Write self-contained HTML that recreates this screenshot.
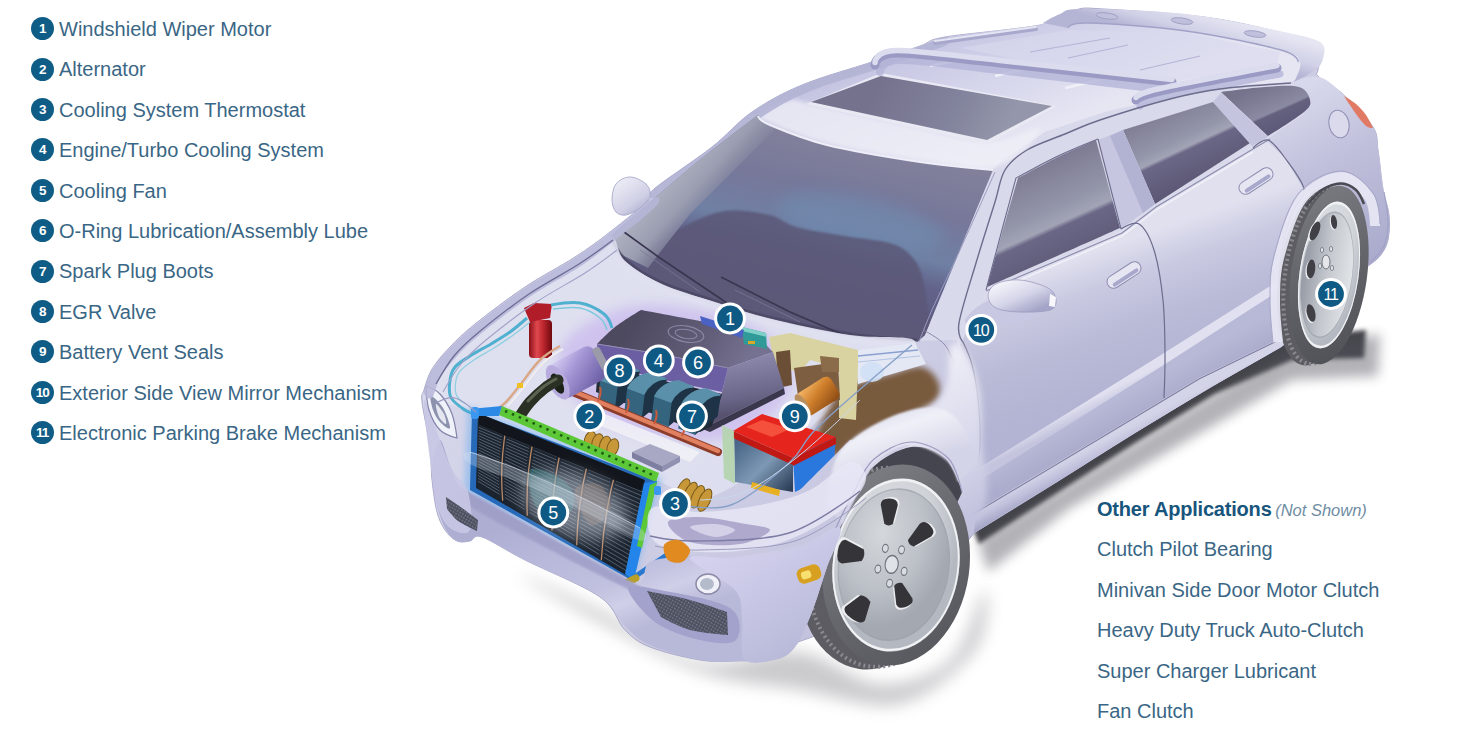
<!DOCTYPE html>
<html><head><meta charset="utf-8">
<style>
html,body{margin:0;padding:0;background:#fff;}
body{width:1472px;height:756px;position:relative;overflow:hidden;font-family:"Liberation Sans",sans-serif;color:#3a6685;}
#car{position:absolute;left:0;top:0;width:1472px;height:756px;}
.li{position:absolute;left:59px;font-size:20px;line-height:24px;white-space:nowrap;}
.b{position:absolute;left:31.2px;width:23px;height:23px;border-radius:50%;background:#0f5d86;color:#fff;font-size:13.5px;font-weight:bold;line-height:23px;text-align:center;}
.b.w{letter-spacing:-0.9px;text-indent:-0.9px;font-size:13.5px;}
.ri{position:absolute;left:1097px;font-size:20px;line-height:24px;white-space:nowrap;}
.ri b{color:#17557c;letter-spacing:-0.2px;}
.ri i{font-size:16.5px;color:#6f8da3;margin-left:-2px;}
</style></head><body>
<svg id="car" viewBox="0 0 1472 756" font-family="Liberation Sans, sans-serif">
<!--defs-->
<defs><filter id="b1" x="-20%" y="-20%" width="140%" height="140%"><feGaussianBlur stdDeviation="1"/></filter>
<filter id="b2" x="-20%" y="-20%" width="140%" height="140%"><feGaussianBlur stdDeviation="2"/></filter>
<filter id="b3" x="-20%" y="-20%" width="140%" height="140%"><feGaussianBlur stdDeviation="3"/></filter>
<filter id="b4" x="-20%" y="-20%" width="140%" height="140%"><feGaussianBlur stdDeviation="4"/></filter>
<filter id="b6" x="-30%" y="-30%" width="160%" height="160%"><feGaussianBlur stdDeviation="6"/></filter>
<filter id="b8" x="-30%" y="-30%" width="160%" height="160%"><feGaussianBlur stdDeviation="8"/></filter>
<filter id="b14" x="-40%" y="-40%" width="180%" height="180%"><feGaussianBlur stdDeviation="14"/></filter>
<pattern id="pMesh" width="3" height="3" patternUnits="userSpaceOnUse" patternTransform="rotate(30)"><rect width="3" height="3" fill="#4c4f5e"/><rect width="1.4" height="1.4" fill="#7d8092"/></pattern><linearGradient id="gBody" gradientUnits="userSpaceOnUse" x1="600" y1="100" x2="1000" y2="650"><stop offset="0" stop-color="#dcdcee"/><stop offset="0.5" stop-color="#cfcfe6"/><stop offset="1" stop-color="#bcbcd9"/></linearGradient>
<linearGradient id="gDoorU" gradientUnits="userSpaceOnUse" x1="1040" y1="270" x2="1085" y2="400"><stop offset="0" stop-color="#e0e0ef"/><stop offset="0.25" stop-color="#cacae2"/><stop offset="0.6" stop-color="#babbd7"/><stop offset="1" stop-color="#b3b4d3"/></linearGradient>
<linearGradient id="gCrease" gradientUnits="userSpaceOnUse" x1="1060" y1="415" x2="1066" y2="427"><stop offset="0" stop-color="#e0e0f0"/><stop offset="1" stop-color="#c4c4de"/></linearGradient>
<linearGradient id="gDoorL" gradientUnits="userSpaceOnUse" x1="1060" y1="428" x2="1072" y2="450"><stop offset="0" stop-color="#b8b9d6"/><stop offset="1" stop-color="#acadcd"/></linearGradient>
<linearGradient id="gSill" gradientUnits="userSpaceOnUse" x1="1060" y1="463" x2="1070" y2="482"><stop offset="0" stop-color="#d4d4e8"/><stop offset="0.5" stop-color="#c0c0dc"/><stop offset="1" stop-color="#a4a4c6"/></linearGradient>
<linearGradient id="gRearQ" gradientUnits="userSpaceOnUse" x1="1300" y1="90" x2="1390" y2="260"><stop offset="0" stop-color="#d8d8ec"/><stop offset="0.4" stop-color="#c0c0dc"/><stop offset="1" stop-color="#a9a9cc"/></linearGradient>
<linearGradient id="gRoof" gradientUnits="userSpaceOnUse" x1="880" y1="30" x2="940" y2="175"><stop offset="0" stop-color="#b8b8da"/><stop offset="0.25" stop-color="#c8c8e4"/><stop offset="0.6" stop-color="#d6d6ec"/><stop offset="1" stop-color="#e6e6f3"/></linearGradient>
<linearGradient id="gWs" gradientUnits="userSpaceOnUse" x1="820" y1="120" x2="770" y2="340"><stop offset="0" stop-color="#85839c"/><stop offset="0.3" stop-color="#77789a"/><stop offset="0.5" stop-color="#6f80a4"/><stop offset="0.62" stop-color="#62628a"/><stop offset="1" stop-color="#575372"/></linearGradient>
<linearGradient id="gApl" gradientUnits="userSpaceOnUse" x1="655" y1="185" x2="700" y2="225"><stop offset="0" stop-color="#b0b4c2"/><stop offset="0.55" stop-color="#9a9db0"/><stop offset="0.9" stop-color="#84859f" stop-opacity="0.6"/><stop offset="1" stop-color="#77789a" stop-opacity="0"/></linearGradient>
<linearGradient id="gSun" gradientUnits="userSpaceOnUse" x1="880" y1="80" x2="1000" y2="140"><stop offset="0" stop-color="#75728d"/><stop offset="0.6" stop-color="#82839c"/><stop offset="1" stop-color="#9497ab"/></linearGradient>
<linearGradient id="gWin" gradientUnits="userSpaceOnUse" x1="1035" y1="165" x2="1085" y2="275"><stop offset="0" stop-color="#7c7a92"/><stop offset="0.4" stop-color="#9496aa"/><stop offset="0.52" stop-color="#a2a4b6"/><stop offset="0.56" stop-color="#6a6686"/><stop offset="1" stop-color="#57536f"/></linearGradient>
<linearGradient id="gWin2" gradientUnits="userSpaceOnUse" x1="1165" y1="105" x2="1205" y2="190"><stop offset="0" stop-color="#7c7a92"/><stop offset="0.4" stop-color="#9496aa"/><stop offset="0.5" stop-color="#a2a4b6"/><stop offset="0.54" stop-color="#6a6686"/><stop offset="1" stop-color="#57536f"/></linearGradient>
<linearGradient id="gWin3" gradientUnits="userSpaceOnUse" x1="1260" y1="85" x2="1280" y2="130"><stop offset="0" stop-color="#75728c"/><stop offset="0.6" stop-color="#8a8aa2"/><stop offset="0.65" stop-color="#64607e"/><stop offset="1" stop-color="#5c5878"/></linearGradient>
<linearGradient id="gSpo" gradientUnits="userSpaceOnUse" x1="1200" y1="10" x2="1190" y2="45"><stop offset="0" stop-color="#e6e6f3"/><stop offset="0.6" stop-color="#d0d0e7"/><stop offset="1" stop-color="#b4b4d4"/></linearGradient>
<linearGradient id="gMir" gradientUnits="userSpaceOnUse" x1="1010" y1="280" x2="1025" y2="315"><stop offset="0" stop-color="#f2f2f9"/><stop offset="0.5" stop-color="#d6d6ea"/><stop offset="1" stop-color="#a4a4c8"/></linearGradient>
<linearGradient id="gMirL" gradientUnits="userSpaceOnUse" x1="620" y1="180" x2="645" y2="215"><stop offset="0" stop-color="#ececf6"/><stop offset="0.6" stop-color="#d0d0e6"/><stop offset="1" stop-color="#a8a8cc"/></linearGradient>
<linearGradient id="gOr" gradientUnits="userSpaceOnUse" x1="815" y1="380" x2="828" y2="412"><stop offset="0" stop-color="#f0b060"/><stop offset="0.4" stop-color="#d0802c"/><stop offset="1" stop-color="#8a4a14"/></linearGradient>
<linearGradient id="gCov" gradientUnits="userSpaceOnUse" x1="640" y1="310" x2="740" y2="372"><stop offset="0" stop-color="#4d495f"/><stop offset="0.6" stop-color="#615d78"/><stop offset="1" stop-color="#757190"/></linearGradient>
<linearGradient id="gCovF" gradientUnits="userSpaceOnUse" x1="740" y1="360" x2="748" y2="412"><stop offset="0" stop-color="#8a86aa"/><stop offset="0.7" stop-color="#6a6688"/><stop offset="1" stop-color="#55516e"/></linearGradient>
<linearGradient id="gPur" gradientUnits="userSpaceOnUse" x1="560" y1="352" x2="585" y2="395"><stop offset="0" stop-color="#d8d0f4"/><stop offset="0.4" stop-color="#a89ad8"/><stop offset="1" stop-color="#6f62a8"/></linearGradient>
<linearGradient id="gCan" gradientUnits="userSpaceOnUse" x1="529" y1="0" x2="552" y2="0"><stop offset="0" stop-color="#8a1018"/><stop offset="0.35" stop-color="#e04850"/><stop offset="0.6" stop-color="#c02830"/><stop offset="1" stop-color="#70080e"/></linearGradient>
<linearGradient id="gBatL" gradientUnits="userSpaceOnUse" x1="740" y1="440" x2="790" y2="490"><stop offset="0" stop-color="#4a6688"/><stop offset="0.5" stop-color="#7c98b4"/><stop offset="1" stop-color="#2c3e58"/></linearGradient>
<linearGradient id="gFend" gradientUnits="userSpaceOnUse" x1="880" y1="400" x2="960" y2="540"><stop offset="0" stop-color="#ececf6"/><stop offset="0.5" stop-color="#d8d8ec"/><stop offset="1" stop-color="#bebedb"/></linearGradient>
<linearGradient id="gTireF" gradientUnits="userSpaceOnUse" x1="-76" y1="-60" x2="76" y2="80"><stop offset="0" stop-color="#7d7d84"/><stop offset="0.5" stop-color="#66666d"/><stop offset="1" stop-color="#55555c"/></linearGradient>
<radialGradient id="gRimF" gradientUnits="userSpaceOnUse" cx="-15" cy="-25" r="95" ><stop offset="0" stop-color="#e4e7ea"/><stop offset="0.7" stop-color="#cfd3d8"/><stop offset="1" stop-color="#b4b8c0"/></radialGradient>
<radialGradient id="gDishF" gradientUnits="userSpaceOnUse" cx="-25" cy="-30" r="95" ><stop offset="0" stop-color="#d4d8dc"/><stop offset="0.6" stop-color="#bcc0c7"/><stop offset="1" stop-color="#a4a8b0"/></radialGradient>
<linearGradient id="gTireR" gradientUnits="userSpaceOnUse" x1="-42" y1="-60" x2="42" y2="80"><stop offset="0" stop-color="#76767d"/><stop offset="0.5" stop-color="#606067"/><stop offset="1" stop-color="#505057"/></linearGradient>
<radialGradient id="gRimR" gradientUnits="userSpaceOnUse" cx="-15" cy="-25" r="95" ><stop offset="0" stop-color="#e4e7ea"/><stop offset="0.7" stop-color="#cfd3d8"/><stop offset="1" stop-color="#b4b8c0"/></radialGradient>
<linearGradient id="gDishR" gradientUnits="userSpaceOnUse" x1="-60" y1="0" x2="60" y2="0"><stop offset="0" stop-color="#9a9ea8"/><stop offset="0.45" stop-color="#c4c8ce"/><stop offset="1" stop-color="#e2e5e8"/></linearGradient>
<linearGradient id="gFlare" gradientUnits="userSpaceOnUse" x1="880" y1="410" x2="900" y2="470"><stop offset="0" stop-color="#dcdcec"/><stop offset="0.35" stop-color="#f0f0f8"/><stop offset="1" stop-color="#d4d4e8"/></linearGradient>
<linearGradient id="gBump" gradientUnits="userSpaceOnUse" x1="560" y1="505" x2="610" y2="640"><stop offset="0" stop-color="#adaed2"/><stop offset="0.3" stop-color="#b7b8da"/><stop offset="0.62" stop-color="#c0c0df"/><stop offset="0.8" stop-color="#cfcfe8"/><stop offset="1" stop-color="#b8b8d8"/></linearGradient>
<linearGradient id="gCorner" gradientUnits="userSpaceOnUse" x1="720" y1="550" x2="790" y2="660"><stop offset="0" stop-color="#d4d1ee"/><stop offset="0.5" stop-color="#c6c6e4"/><stop offset="1" stop-color="#b8b8d8"/></linearGradient>
</defs>
<!--body-->
<g id="shadow"><path d="M972.0,526.0 L1055.0,476.0 L1133.0,427.0 L1211.0,380.0 L1281.0,340.0 L1366.0,330.0 L1364.0,358.0 L1292.0,360.0 L1215.0,394.0 L1137.0,442.0 L1059.0,492.0 L979.0,544.0Z" fill="#2e2e34" opacity="0.9" filter="url(#b2)"/>
<path d="M978.0,540.0 L1281.0,352.0 L1380.0,334.0 L1378.0,376.0 L1292.0,380.0 L1070.0,508.0 L988.0,572.0Z" fill="#55555f" opacity="0.45" filter="url(#b6)"/>
<path d="M800.0,652.0 C830.0,655.7 855.0,682.7 880.0,684.0 C905.0,685.3 932.5,675.7 950.0,660.0 C967.5,644.3 980.8,591.7 985.0,590.0 C989.2,588.3 989.2,631.0 975.0,650.0 C960.8,669.0 929.2,697.3 900.0,704.0 C870.8,710.7 833.3,695.3 800.0,690.0 C766.7,684.7 733.3,683.3 700.0,672.0 C666.7,660.7 630.0,638.2 600.0,622.0 C570.0,605.8 520.0,577.0 520.0,575.0 C520.0,573.0 570.0,595.5 600.0,610.0 C630.0,624.5 666.7,655.0 700.0,662.0 C733.3,669.0 770.0,648.3 800.0,652.0Z" fill="#77777f" opacity="0.38" filter="url(#b8)"/>
</g>
<g id="body"><path d="M422.0,402.0 C421.0,392.5 422.3,395.5 424.0,390.0 C425.7,384.5 427.7,376.2 432.0,369.0 C436.3,361.8 442.8,354.5 450.0,347.0 C457.2,339.5 462.5,334.0 475.0,324.0 C487.5,314.0 508.3,298.2 525.0,287.0 C541.7,275.8 560.8,266.2 575.0,257.0 C589.2,247.8 597.5,241.7 610.0,232.0 C622.5,222.3 642.7,206.2 650.0,199.0 C657.3,191.8 643.7,197.7 654.0,189.0 C664.3,180.3 695.7,159.8 712.0,147.0 C728.3,134.2 737.0,122.3 752.0,112.0 C767.0,101.7 782.0,93.3 802.0,85.0 C822.0,76.7 852.3,68.5 872.0,62.0 C891.7,55.5 907.8,50.2 920.0,46.0 C932.2,41.8 925.0,40.5 945.0,37.0 C965.0,33.5 1018.3,29.5 1040.0,25.0 C1061.7,20.5 1064.3,12.7 1075.0,10.0 C1085.7,7.3 1082.5,7.8 1104.0,9.0 C1125.5,10.2 1174.8,13.2 1204.0,17.0 C1233.2,20.8 1260.3,27.5 1279.0,32.0 C1297.7,36.5 1308.7,41.0 1316.0,44.0 C1323.3,47.0 1323.0,50.0 1323.0,50.0 C1323.0,50.0 1318.7,65.5 1318.0,70.0 C1317.3,74.5 1314.7,72.8 1319.0,77.0 C1323.3,81.2 1335.0,86.7 1344.0,95.0 C1353.0,103.3 1367.3,117.8 1373.0,127.0 C1378.7,136.2 1376.3,139.7 1378.0,150.0 C1379.7,160.3 1381.2,178.2 1383.0,189.0 C1384.8,199.8 1388.2,206.5 1389.0,215.0 C1389.8,223.5 1389.5,233.2 1388.0,240.0 C1386.5,246.8 1383.3,251.7 1380.0,256.0 C1376.7,260.3 1368.0,266.0 1368.0,266.0 C1368.0,266.0 1354.5,286.5 1340.0,300.0 C1325.5,313.5 1281.0,347.0 1281.0,347.0 C1281.0,347.0 1235.7,372.5 1211.0,387.0 C1186.3,401.5 1159.0,418.0 1133.0,434.0 C1107.0,450.0 1081.5,466.5 1055.0,483.0 C1028.5,499.5 974.0,533.0 974.0,533.0 C974.0,533.0 955.7,557.2 940.0,570.0 C924.3,582.8 903.7,598.0 880.0,610.0 C856.3,622.0 798.0,642.0 798.0,642.0 C798.0,642.0 790.3,654.8 780.0,658.0 C769.7,661.2 749.3,660.7 736.0,661.0 C722.7,661.3 714.3,662.3 700.0,660.0 C685.7,657.7 662.5,652.0 650.0,647.0 C637.5,642.0 633.3,638.3 625.0,630.0 C616.7,621.7 616.7,608.7 600.0,597.0 C583.3,585.3 544.7,570.0 525.0,560.0 C505.3,550.0 491.2,540.2 482.0,537.0 C472.8,533.8 474.2,540.3 470.0,541.0 C465.8,541.7 461.2,542.8 457.0,541.0 C452.8,539.2 448.3,534.8 445.0,530.0 C441.7,525.2 439.2,520.3 437.0,512.0 C434.8,503.7 433.2,490.8 432.0,480.0 C430.8,469.2 431.7,460.0 430.0,447.0 C428.3,434.0 423.0,411.5 422.0,402.0Z" fill="url(#gBody)" stroke="#aaaacc" stroke-width="1"/>
<path d="M915.0,341.0 L923.0,329.0 L993.0,170.0 L1002.0,160.0 L1045.0,132.0 L1105.0,112.0 L1170.0,97.0 L1220.0,87.0 L1291.0,82.0 L1319.0,77.0 L1344.0,95.0 L1373.0,127.0 L1378.0,150.0 L1383.0,189.0 L1389.0,215.0 L1388.0,240.0 L1380.0,256.0 L1368.0,266.0 L1340.0,300.0 L1281.0,347.0 L1211.0,387.0 L1133.0,434.0 L1055.0,483.0 L974.0,533.0 L975.0,512.0 L980.0,440.0 L976.0,382.0 L956.0,340.0Z" fill="#d9d9ec"/>
<path d="M960.0,345.0 L988.0,290.0 L1120.0,232.0 L1155.0,207.0 L1252.0,148.0 L1268.0,139.0 L1300.0,120.0 L1330.0,150.0 L1300.0,200.0 L1285.0,240.0 L1280.0,280.0 L1158.0,357.0 L978.0,469.0 L980.0,440.0 L976.0,382.0Z" fill="url(#gDoorU)"/>
<path d="M978.0,469.0 L1158.0,357.0 L1280.0,280.0 L1280.0,290.0 L1159.0,368.0 L978.0,481.0Z" fill="url(#gCrease)"/>
<path d="M978.0,481.0 L1159.0,368.0 L1280.0,290.0 L1279.0,339.0 L1199.0,378.0 L1104.0,435.0 L975.0,512.0Z" fill="url(#gDoorL)"/>
<path d="M975.0,512.0 L1104.0,435.0 L1199.0,378.0 L1279.0,339.0 L1281.0,347.0 L1211.0,387.0 L1133.0,434.0 L1055.0,483.0 L974.0,533.0Z" fill="url(#gSill)"/>
<path d="M1291.0,82.0 C1291.0,82.0 1310.2,74.8 1319.0,77.0 C1327.8,79.2 1335.0,86.7 1344.0,95.0 C1353.0,103.3 1367.3,117.8 1373.0,127.0 C1378.7,136.2 1376.3,139.7 1378.0,150.0 C1379.7,160.3 1381.2,178.2 1383.0,189.0 C1384.8,199.8 1388.2,206.5 1389.0,215.0 C1389.8,223.5 1389.5,233.2 1388.0,240.0 C1386.5,246.8 1383.3,251.7 1380.0,256.0 C1376.7,260.3 1368.0,266.0 1368.0,266.0 C1368.0,266.0 1340.0,215.0 1340.0,215.0 C1340.0,215.0 1304.0,189.0 1304.0,189.0 C1304.0,189.0 1285.0,158.0 1285.0,158.0 C1285.0,158.0 1266.0,140.0 1266.0,140.0 C1266.0,140.0 1304.0,114.0 1304.0,114.0 C1304.0,114.0 1291.0,82.0 1291.0,82.0Z" fill="url(#gRearQ)"/>
<path d="M757.0,117.0 L770.0,125.0 L827.0,145.0 L920.0,162.0 L993.0,170.0 L993.0,170.0 L1002.0,160.0 L1045.0,132.0 L1105.0,112.0 L1170.0,97.0 L1220.0,87.0 L1291.0,82.0 L1316.0,70.0 L1323.0,50.0 L1316.0,44.0 L1279.0,32.0 L1204.0,17.0 L1104.0,9.0 L1075.0,10.0 L1040.0,25.0 L945.0,37.0 L920.0,46.0 L872.0,62.0 L802.0,85.0 L752.0,112.0Z" fill="url(#gRoof)"/>
<path d="M758.0,113.0 C761.3,109.2 781.2,101.5 790.0,100.0 C798.8,98.5 792.7,100.0 811.0,104.0 C829.3,108.0 870.7,117.7 900.0,124.0 C929.3,130.3 963.7,141.3 987.0,142.0 C1010.3,142.7 1037.8,124.2 1040.0,128.0 C1042.2,131.8 1020.0,159.7 1000.0,165.0 C980.0,170.3 948.8,163.7 920.0,160.0 C891.2,156.3 852.0,149.2 827.0,143.0 C802.0,136.8 781.5,128.0 770.0,123.0 C758.5,118.0 754.7,116.8 758.0,113.0Z" fill="#f0f0f8" opacity="0.75" filter="url(#b2)"/>
<path d="M654.0,189.0 C662.7,180.8 695.7,159.8 712.0,147.0 C728.3,134.2 737.0,122.3 752.0,112.0 C767.0,101.7 782.0,93.3 802.0,85.0 C822.0,76.7 852.3,68.5 872.0,62.0 C891.7,55.5 907.8,50.2 920.0,46.0 C932.2,41.8 940.3,37.3 945.0,37.0 C949.7,36.7 951.3,41.3 948.0,44.0 C944.7,46.7 936.7,48.8 925.0,53.0 C913.3,57.2 897.5,62.5 878.0,69.0 C858.5,75.5 827.8,83.7 808.0,92.0 C788.2,100.3 774.0,108.7 759.0,119.0 C744.0,129.3 734.5,141.2 718.0,154.0 C701.5,166.8 670.7,190.2 660.0,196.0 C649.3,201.8 645.3,197.2 654.0,189.0Z" fill="#b2b2d4" opacity="0.9"/>
</g>
<g id="glass"><clipPath id="cWs"><path d="M758.0,115.0 C758.0,115.0 758.5,120.0 770.0,125.0 C781.5,130.0 802.0,138.8 827.0,145.0 C852.0,151.2 892.3,157.8 920.0,162.0 C947.7,166.2 993.0,170.0 993.0,170.0 C993.0,170.0 971.3,222.5 960.0,250.0 C948.7,277.5 925.0,335.0 925.0,335.0 C925.0,335.0 917.0,342.0 917.0,342.0 C917.0,342.0 874.8,339.8 850.0,336.0 C825.2,332.2 791.0,324.7 768.0,319.0 C745.0,313.3 729.7,307.7 712.0,302.0 C694.3,296.3 676.5,291.7 662.0,285.0 C647.5,278.3 633.8,269.8 625.0,262.0 C616.2,254.2 609.0,238.0 609.0,238.0 C609.0,238.0 665.2,188.5 690.0,168.0 C714.8,147.5 758.0,115.0 758.0,115.0Z"/></clipPath><path d="M758.0,115.0 C758.0,115.0 758.5,120.0 770.0,125.0 C781.5,130.0 802.0,138.8 827.0,145.0 C852.0,151.2 892.3,157.8 920.0,162.0 C947.7,166.2 993.0,170.0 993.0,170.0 C993.0,170.0 971.3,222.5 960.0,250.0 C948.7,277.5 925.0,335.0 925.0,335.0 C925.0,335.0 917.0,342.0 917.0,342.0 C917.0,342.0 874.8,339.8 850.0,336.0 C825.2,332.2 791.0,324.7 768.0,319.0 C745.0,313.3 729.7,307.7 712.0,302.0 C694.3,296.3 676.5,291.7 662.0,285.0 C647.5,278.3 633.8,269.8 625.0,262.0 C616.2,254.2 609.0,238.0 609.0,238.0 C609.0,238.0 665.2,188.5 690.0,168.0 C714.8,147.5 758.0,115.0 758.0,115.0Z" fill="url(#gWs)"/>
<g clip-path="url(#cWs)"><ellipse cx="860" cy="222" rx="85" ry="26" fill="#6f8eb2" opacity="0.55" filter="url(#b8)" transform="rotate(12 860 222)"/><path d="M640.0,262.0 C640.0,262.0 650.7,246.3 664.0,238.0 C677.3,229.7 702.5,215.8 720.0,212.0 C737.5,208.2 756.3,212.5 769.0,215.0 C781.7,217.5 783.3,223.5 796.0,227.0 C808.7,230.5 828.8,233.2 845.0,236.0 C861.2,238.8 881.7,240.3 893.0,244.0 C904.3,247.7 908.2,252.8 913.0,258.0 C917.8,263.2 922.0,275.0 922.0,275.0 C922.0,275.0 935.0,350.0 935.0,350.0 C935.0,350.0 700.0,330.0 700.0,330.0 C700.0,330.0 640.0,262.0 640.0,262.0Z" fill="#5b5878" opacity="0.88" filter="url(#b1)"/>
<path d="M600.0,236.0 L758.0,112.0 L776.0,128.0 L690.0,214.0 L668.0,242.0 L648.0,268.0 L612.0,250.0Z" fill="url(#gApl)"/>
<path d="M609.0,238.0 C609.0,238.0 616.2,254.2 625.0,262.0 C633.8,269.8 647.5,278.3 662.0,285.0 C676.5,291.7 694.3,296.3 712.0,302.0 C729.7,307.7 745.0,313.3 768.0,319.0 C791.0,324.7 825.2,332.2 850.0,336.0 C874.8,339.8 917.0,342.0 917.0,342.0" fill="none" stroke="#4a4662" stroke-width="7" opacity="0.8"/>
<path d="M624.0,232.0 L660.0,258.0 L727.0,303.0" fill="none" stroke="#3a3650" stroke-width="1.6"/>
<path d="M640.0,250.0 L700.0,292.0" fill="none" stroke="#7a7894" stroke-width="0.8"/>
<path d="M721.0,277.0 L790.0,312.0 L858.0,341.0" fill="none" stroke="#3a3650" stroke-width="1.6"/>
<path d="M735.0,290.0 L800.0,322.0" fill="none" stroke="#7a7894" stroke-width="0.8"/>
</g><path d="M606.0,242.0 C606.0,242.0 614.0,258.2 623.0,266.0 C632.0,273.8 645.5,282.3 660.0,289.0 C674.5,295.7 692.2,300.3 710.0,306.0 C727.8,311.7 743.7,317.3 767.0,323.0 C790.3,328.7 825.2,336.2 850.0,340.0 C874.8,343.8 916.0,346.0 916.0,346.0" fill="none" stroke="#f0f0f8" stroke-width="4" opacity="0.8"/>
<path d="M609.0,238.0 C609.0,238.0 616.2,254.2 625.0,262.0 C633.8,269.8 647.5,278.3 662.0,285.0 C676.5,291.7 694.3,296.3 712.0,302.0 C729.7,307.7 745.0,313.3 768.0,319.0 C791.0,324.7 825.2,332.2 850.0,336.0 C874.8,339.8 917.0,342.0 917.0,342.0" fill="none" stroke="#c4c4de" stroke-width="1.2"/>
<path d="M806.0,104.0 L881.0,73.0 L1057.0,106.0 L988.0,144.0Z" fill="#e9e9f4"/>
<path d="M811.0,102.0 L881.0,76.0 L1052.0,106.0 L987.0,140.0Z" fill="url(#gSun)"/>
<path d="M987.0,287.0 C987.0,287.0 998.8,244.2 1004.0,226.0 C1009.2,207.8 1018.0,178.0 1018.0,178.0 C1018.0,178.0 1047.0,162.3 1060.0,156.0 C1073.0,149.7 1096.0,140.0 1096.0,140.0 C1096.0,140.0 1120.0,228.0 1120.0,228.0 C1120.0,228.0 987.0,287.0 987.0,287.0Z" fill="url(#gWin)"/>
<path d="M1123.0,130.0 L1213.0,102.0 L1250.0,143.0 L1155.0,204.0Z" fill="url(#gWin2)"/>
<path d="M1221.0,92.0 C1221.0,92.0 1252.0,87.8 1265.0,87.0 C1278.0,86.2 1291.5,84.8 1299.0,87.0 C1306.5,89.2 1309.2,95.8 1310.0,100.0 C1310.8,104.2 1311.0,106.0 1304.0,112.0 C1297.0,118.0 1268.0,136.0 1268.0,136.0 C1268.0,136.0 1221.0,92.0 1221.0,92.0Z" fill="url(#gWin3)"/>
</g>
<g id="details"><path d="M1043.0,23.0 C1043.0,23.0 1053.5,16.3 1060.0,14.0 C1066.5,11.7 1061.0,9.0 1082.0,9.0 C1103.0,9.0 1152.3,10.2 1186.0,14.0 C1219.7,17.8 1261.7,27.3 1284.0,32.0 C1306.3,36.7 1313.3,38.3 1320.0,42.0 C1326.7,45.7 1324.0,54.0 1324.0,54.0 C1324.0,54.0 1323.0,63.3 1318.0,68.0 C1313.0,72.7 1294.0,82.0 1294.0,82.0 C1294.0,82.0 1302.2,67.3 1300.0,62.0 C1297.8,56.7 1300.0,55.2 1281.0,50.0 C1262.0,44.8 1218.2,35.5 1186.0,31.0 C1153.8,26.5 1107.7,23.5 1088.0,23.0 C1068.3,22.5 1068.0,28.0 1068.0,28.0 C1068.0,28.0 1043.0,23.0 1043.0,23.0Z" fill="url(#gSpo)"/>
<path d="M1068.0,28.0 C1068.0,28.0 1068.3,22.5 1088.0,23.0 C1107.7,23.5 1153.8,26.5 1186.0,31.0 C1218.2,35.5 1262.3,44.8 1281.0,50.0 C1299.7,55.2 1298.0,62.0 1298.0,62.0" fill="none" stroke="#a2a2c8" stroke-width="1.5"/>
<ellipse cx="1107" cy="16" rx="11" ry="3" fill="#c0c0dc" stroke="#9a9abe" stroke-width="0.8" transform="rotate(8 1107 16)"/><ellipse cx="1182" cy="21" rx="11" ry="3" fill="#c0c0dc" stroke="#9a9abe" stroke-width="0.8" transform="rotate(8 1182 21)"/><ellipse cx="1255" cy="34" rx="11" ry="3" fill="#c0c0dc" stroke="#9a9abe" stroke-width="0.8" transform="rotate(8 1255 34)"/><path d="M960.0,48.0 L1068.0,30.0 L1186.0,33.0 L1280.0,52.0 L1277.0,65.0 L1172.0,82.0 L1150.0,86.0Z" fill="#d8d8ee" opacity="0.6"/>
<path d="M1030.0,52.0 L1110.0,38.0" fill="none" stroke="#b4b4d6" stroke-width="1.2"/>
<path d="M1068.0,58.0 L1128.0,45.0" fill="none" stroke="#b4b4d6" stroke-width="1.2"/>
<path d="M1140.0,70.0 L1200.0,56.0" fill="none" stroke="#b4b4d6" stroke-width="1.2"/>
<path d="M930.0,66.0 L960.0,60.0" fill="none" stroke="#f0f0f8" stroke-width="2.5"/>
<path d="M995.0,76.0 L1030.0,68.0" fill="none" stroke="#f0f0f8" stroke-width="2.5"/>
<path d="M1065.0,88.0 L1100.0,80.0" fill="none" stroke="#f0f0f8" stroke-width="2.5"/>
<path d="M935.0,43.0 L1036.0,29.0" fill="none" stroke="#a8a8cc" stroke-width="4" stroke-linecap="round"/>
<path d="M935.0,41.0 L1036.0,27.0" fill="none" stroke="#e4e4f2" stroke-width="2" stroke-linecap="round"/>
<path d="M880.0,72.0 C880.0,72.0 880.0,60.3 900.0,60.0 C920.0,59.7 955.3,65.0 1000.0,70.0 C1044.7,75.0 1168.0,90.0 1168.0,90.0" fill="none" stroke="#b4b4d8" stroke-width="8" opacity="0.8" stroke-linecap="round"/>
<path d="M875.0,65.0 C875.0,65.0 875.2,53.3 896.0,53.0 C916.8,52.7 954.0,58.2 1000.0,63.0 C1046.0,67.8 1172.0,82.0 1172.0,82.0" fill="none" stroke="#9a9ac4" stroke-width="9" stroke-linecap="round"/>
<path d="M875.0,62.5 C875.0,62.5 875.2,50.8 896.0,50.5 C916.8,50.2 954.0,55.7 1000.0,60.5 C1046.0,65.3 1172.0,79.5 1172.0,79.5" fill="none" stroke="#dcdcef" stroke-width="5.5" stroke-linecap="round"/>
<path d="M1140.0,106.0 C1140.0,106.0 1140.7,102.3 1164.0,97.0 C1187.3,91.7 1280.0,74.0 1280.0,74.0" fill="none" stroke="#b4b4d8" stroke-width="7" opacity="0.8" stroke-linecap="round"/>
<path d="M1136.0,100.0 C1136.0,100.0 1136.5,96.3 1160.0,91.0 C1183.5,85.7 1277.0,68.0 1277.0,68.0" fill="none" stroke="#9a9ac4" stroke-width="9" stroke-linecap="round"/>
<path d="M1136.0,97.5 C1136.0,97.5 1136.5,93.8 1160.0,88.5 C1183.5,83.2 1277.0,65.5 1277.0,65.5" fill="none" stroke="#dcdcef" stroke-width="5.5" stroke-linecap="round"/>
<path d="M963.0,342.0 C963.0,342.0 956.8,336.2 959.0,323.0 C961.2,309.8 970.0,283.2 976.0,263.0 C982.0,242.8 990.2,217.5 995.0,202.0 C999.8,186.5 999.7,178.7 1005.0,170.0 C1010.3,161.3 1017.0,156.0 1027.0,150.0 C1037.0,144.0 1052.8,139.0 1065.0,134.0 C1077.2,129.0 1082.5,125.8 1100.0,120.0 C1117.5,114.2 1150.0,104.2 1170.0,99.0 C1190.0,93.8 1199.8,91.7 1220.0,89.0 C1240.2,86.3 1291.0,83.0 1291.0,83.0" fill="none" stroke="#6c6c8c" stroke-width="1.4"/>
<path d="M919.0,342.0 C919.0,342.0 925.2,325.3 932.0,310.0 C938.8,294.7 949.5,273.0 960.0,250.0 C970.5,227.0 995.0,172.0 995.0,172.0" fill="none" stroke="#9c9cc0" stroke-width="1"/>
<path d="M758.0,116.0 C758.0,116.0 758.5,120.2 770.0,125.0 C781.5,129.8 802.0,138.8 827.0,145.0 C852.0,151.2 892.3,157.8 920.0,162.0 C947.7,166.2 993.0,170.0 993.0,170.0" fill="none" stroke="#eeeef8" stroke-width="2"/>
<path d="M1098.0,140.0 L1123.0,130.0 L1155.0,204.0 L1121.0,229.0Z" fill="#c6c6e0"/>
<path d="M1110.0,136.0 L1123.0,130.0 L1155.0,204.0 L1143.0,213.0Z" fill="#b2b2d2"/>
<path d="M1213.0,102.0 L1221.0,93.0 L1268.0,137.0 L1252.0,146.0Z" fill="#c4c4de"/>
<path d="M986.0,290.0 C986.0,290.0 998.0,244.7 1003.0,226.0 C1008.0,207.3 1016.0,178.0 1016.0,178.0 C1016.0,178.0 1044.3,162.5 1058.0,156.0 C1071.7,149.5 1098.0,139.0 1098.0,139.0" fill="none" stroke="#6c6c8c" stroke-width="1.1"/>
<path d="M1098.0,139.0 L1121.0,229.0" fill="none" stroke="#6c6c8c" stroke-width="1.1"/>
<path d="M986.0,291.0 L1122.0,233.0 L1156.0,207.0 L1253.0,149.0 L1270.0,139.0" fill="none" stroke="#8a8aac" stroke-width="1.2"/>
<path d="M988.0,294.0 L1122.0,236.0 L1156.0,210.0 L1253.0,152.0" fill="none" stroke="#f0f0f8" stroke-width="1.5"/>
<path d="M1121.0,229.0 C1121.0,229.0 1133.5,220.5 1139.0,224.0 C1144.5,227.5 1150.0,237.3 1154.0,250.0 C1158.0,262.7 1161.2,282.8 1163.0,300.0 C1164.8,317.2 1164.8,336.7 1165.0,353.0 C1165.2,369.3 1164.0,398.0 1164.0,398.0" fill="none" stroke="#6c6c8c" stroke-width="1.2"/>
<path d="M963.0,342.0 C963.0,342.0 969.5,355.3 972.0,365.0 C974.5,374.7 976.7,387.5 978.0,400.0 C979.3,412.5 980.2,426.7 980.0,440.0 C979.8,453.3 977.8,467.7 977.0,480.0 C976.2,492.3 975.0,514.0 975.0,514.0" fill="none" stroke="#6c6c8c" stroke-width="1.2"/>
<path d="M975.0,513.0 L1104.0,436.0 L1199.0,379.0 L1279.0,340.0" fill="none" stroke="#7c7c9e" stroke-width="1.1"/>
<path d="M1253.0,148.0 C1253.0,148.0 1262.7,138.3 1268.0,140.0 C1273.3,141.7 1279.0,149.8 1285.0,158.0 C1291.0,166.2 1302.5,180.5 1304.0,189.0 C1305.5,197.5 1297.3,200.7 1294.0,209.0 C1290.7,217.3 1286.5,227.8 1284.0,239.0 C1281.5,250.2 1279.8,259.2 1279.0,276.0 C1278.2,292.8 1279.0,340.0 1279.0,340.0" fill="none" stroke="#6c6c8c" stroke-width="1.2"/>
<path d="M923.0,330.0 C923.0,330.0 939.3,338.0 945.0,345.0 C950.7,352.0 957.0,372.0 957.0,372.0" fill="none" stroke="#8a8aac" stroke-width="1"/>
<path d="M965.0,322.0 C963.3,318.5 974.2,308.7 980.0,305.0 C985.8,301.3 990.0,298.8 1000.0,300.0 C1010.0,301.2 1036.7,308.3 1040.0,312.0 C1043.3,315.7 1028.3,319.7 1020.0,322.0 C1011.7,324.3 999.2,326.0 990.0,326.0 C980.8,326.0 966.7,325.5 965.0,322.0Z" fill="#c8c8e2"/>
<path d="M988.0,296.0 C988.0,292.0 990.7,286.7 996.0,284.0 C1001.3,281.3 1011.3,279.3 1020.0,280.0 C1028.7,280.7 1042.0,284.7 1048.0,288.0 C1054.0,291.3 1055.7,296.3 1056.0,300.0 C1056.3,303.7 1056.0,308.0 1050.0,310.0 C1044.0,312.0 1029.0,312.3 1020.0,312.0 C1011.0,311.7 1001.3,310.7 996.0,308.0 C990.7,305.3 988.0,300.0 988.0,296.0Z" fill="url(#gMir)" stroke="#9a9abc" stroke-width="0.8"/>
<path d="M1050.0,294.0 L1056.0,297.0 L1055.0,307.0 L1049.0,306.0Z" fill="#f8f8fc"/>
<path d="M612.0,200.0 C612.0,195.3 613.0,187.8 616.0,184.0 C619.0,180.2 625.0,177.0 630.0,177.0 C635.0,177.0 642.7,180.8 646.0,184.0 C649.3,187.2 651.0,192.0 650.0,196.0 C649.0,200.0 644.0,204.8 640.0,208.0 C636.0,211.2 630.0,214.3 626.0,215.0 C622.0,215.7 618.3,214.5 616.0,212.0 C613.7,209.5 612.0,204.7 612.0,200.0Z" fill="url(#gMirL)" stroke="#a0a0c4" stroke-width="0.8"/>
<g transform="rotate(-33 1124 275)"><rect x="1105" y="268.5" width="38" height="13" rx="6.5" fill="#e6e6f3" stroke="#8c8cb0" stroke-width="1"/><rect x="1109" y="276" width="30" height="4" rx="2" fill="#a8a8cc"/></g><g transform="rotate(-33 1256 181)"><rect x="1237" y="174.5" width="38" height="13" rx="6.5" fill="#e6e6f3" stroke="#8c8cb0" stroke-width="1"/><rect x="1241" y="182" width="30" height="4" rx="2" fill="#a8a8cc"/></g><ellipse cx="1339" cy="124" rx="10" ry="14" fill="#dadaec" stroke="#9090b4" stroke-width="1" transform="rotate(-12 1339 124)"/><path d="M1344.0,96.0 C1344.0,96.0 1352.3,100.8 1356.0,104.0 C1359.7,107.2 1363.2,111.0 1366.0,115.0 C1368.8,119.0 1373.0,128.0 1373.0,128.0 C1373.0,128.0 1368.8,128.3 1366.0,126.0 C1363.2,123.7 1359.7,119.0 1356.0,114.0 C1352.3,109.0 1344.0,96.0 1344.0,96.0Z" fill="#e07a64"/>
<path d="M1370.0,262.0 C1370.0,262.0 1381.0,252.7 1384.0,246.0 C1387.0,239.3 1388.0,231.0 1388.0,222.0 C1388.0,213.0 1384.0,192.0 1384.0,192.0" fill="none" stroke="#a2a2c6" stroke-width="1.2"/>
</g>
<g id="engine"><path d="M432.0,372.0 C433.7,363.7 442.8,357.5 450.0,350.0 C457.2,342.5 462.5,337.0 475.0,327.0 C487.5,317.0 508.3,301.2 525.0,290.0 C541.7,278.8 560.8,269.0 575.0,260.0 C589.2,251.0 601.7,235.8 610.0,236.0 C618.3,236.2 616.3,253.0 625.0,261.0 C633.7,269.0 647.5,277.3 662.0,284.0 C676.5,290.7 694.3,295.3 712.0,301.0 C729.7,306.7 745.0,312.3 768.0,318.0 C791.0,323.7 825.5,331.2 850.0,335.0 C874.5,338.8 910.0,334.8 915.0,341.0 C920.0,347.2 894.2,360.5 880.0,372.0 C865.8,383.5 848.2,395.0 830.0,410.0 C811.8,425.0 792.7,447.0 771.0,462.0 C749.3,477.0 719.3,497.0 700.0,500.0 C680.7,503.0 692.3,494.5 655.0,480.0 C617.7,465.5 511.8,426.3 476.0,413.0 C440.2,399.7 447.3,406.8 440.0,400.0 C432.7,393.2 430.3,380.3 432.0,372.0Z" fill="#dfe0f0" opacity="0.9"/>
<path d="M560.0,350.0 C566.7,330.8 606.7,308.3 640.0,305.0 C673.3,301.7 735.0,315.8 760.0,330.0 C785.0,344.2 796.7,371.7 790.0,390.0 C783.3,408.3 751.7,435.0 720.0,440.0 C688.3,445.0 626.7,435.0 600.0,420.0 C573.3,405.0 553.3,369.2 560.0,350.0Z" fill="#c9b8ee" opacity="0.7" filter="url(#b6)"/>
<path d="M846.0,388.0 C856.3,382.0 877.3,377.5 890.0,374.0 C902.7,370.5 913.8,365.3 922.0,367.0 C930.2,368.7 937.2,377.8 939.0,384.0 C940.8,390.2 940.2,398.0 933.0,404.0 C925.8,410.0 908.2,414.7 896.0,420.0 C883.8,425.3 869.7,430.0 860.0,436.0 C850.3,442.0 845.7,454.3 838.0,456.0 C830.3,457.7 815.7,453.7 814.0,446.0 C812.3,438.3 822.7,419.7 828.0,410.0 C833.3,400.3 835.7,394.0 846.0,388.0Z" fill="#785a3c" filter="url(#b3)"/>
<path d="M769.0,337.0 L790.0,333.0 L858.0,350.0 L858.0,366.0 L856.0,420.0 L839.0,418.0 L839.0,368.0 L810.0,360.0 L800.0,372.0 L775.0,366.0Z" fill="#d9d3a2"/>
<path d="M858.0,350.0 L915.0,343.0 L926.0,364.0 L858.0,384.0Z" fill="#e4e8f4"/>
<path d="M858.0,356.0 L918.0,350.0" fill="none" stroke="#8aa0d0" stroke-width="1.5"/>
<path d="M858.0,362.0 L920.0,356.0" fill="none" stroke="#b4c4e4" stroke-width="1.2"/>
<ellipse cx="872" cy="372" rx="12" ry="10" fill="#cfe0f6" opacity="0.9"/><path d="M776.0,352.0 L790.0,350.0 L792.0,385.0 L778.0,388.0Z" fill="#6b4e36"/>
<path d="M794.0,368.0 L838.0,362.0 L840.0,400.0 L800.0,410.0Z" fill="#7d5e40"/>
<path d="M820.0,356.0 L839.0,358.0 L839.0,372.0 L822.0,372.0Z" fill="#8a6c4a"/>
<g transform="rotate(-32 818 396)"><rect x="798" y="383" width="40" height="26" rx="6" fill="url(#gOr)"/><ellipse cx="800" cy="396" rx="5" ry="13" fill="#b89060"/></g><path d="M641.0,310.0 C641.0,310.0 681.5,317.5 700.0,321.0 C718.5,324.5 752.0,331.0 752.0,331.0 C752.0,331.0 773.0,352.0 773.0,352.0 C773.0,352.0 728.0,368.0 728.0,368.0 C728.0,368.0 681.8,358.0 660.0,354.0 C638.2,350.0 597.0,344.0 597.0,344.0 C597.0,344.0 607.7,332.7 615.0,327.0 C622.3,321.3 641.0,310.0 641.0,310.0Z" fill="url(#gCov)"/>
<ellipse cx="686" cy="334" rx="18" ry="8" fill="none" stroke="#8a86a4" stroke-width="1.2" transform="rotate(10 686 334)"/><ellipse cx="686" cy="334" rx="11" ry="4.5" fill="none" stroke="#8a86a4" stroke-width="1" transform="rotate(10 686 334)"/><path d="M728.0,368.0 L773.0,352.0 L784.0,388.0 L712.0,424.0 L722.0,392.0Z" fill="url(#gCovF)"/>
<path d="M597.0,344.0 L660.0,354.0 L728.0,368.0 L722.0,392.0 L655.0,378.0 L598.0,362.0Z" fill="#6c5ea2"/>
<path d="M597.0,344.0 L660.0,354.0 L728.0,368.0" fill="none" stroke="#8f8bb0" stroke-width="1.2"/>
<path d="M712.0,424.0 L784.0,388.0 L785.0,394.0 L710.0,432.0 L700.0,428.0Z" fill="#3a374c"/>
<path d="M742.0,327.0 L766.0,333.0 L767.0,349.0 L744.0,344.0Z" fill="#2f9a98"/>
<path d="M742.0,327.0 L766.0,333.0 L767.0,337.0 L742.0,331.0Z" fill="#7fd0c8"/>
<path d="M700.0,316.0 L744.0,330.0 L742.0,338.0 L702.0,324.0Z" fill="#4a62c4"/>
<rect x="748" y="341" width="7" height="3" fill="#d8a828"/><path d="M598.0,366.0 L722.0,394.0 L712.0,426.0 L700.0,432.0 L596.0,392.0Z" fill="#222a36"/>
<g transform="translate(601,374)"><path d="M16,12 C20,4 28,-3 38,-3 L35,18 L13,36Z" fill="#1e3446" stroke="#1e3446" stroke-width="1.5" stroke-linejoin="round"/><path d="M0,6 L16,12 L13,36 L-3,30Z" fill="#35647e" stroke="#35647e" stroke-width="1.5" stroke-linejoin="round"/><path d="M0,6 C4,-2 14,-9 24,-9 L38,-3 C28,-3 20,4 16,12Z" fill="#5a90aa" stroke="#5a90aa" stroke-width="1.5" stroke-linejoin="round"/></g><g transform="translate(628,382)"><path d="M16,12 C20,4 28,-3 38,-3 L35,18 L13,36Z" fill="#1e3446" stroke="#1e3446" stroke-width="1.5" stroke-linejoin="round"/><path d="M0,6 L16,12 L13,36 L-3,30Z" fill="#35647e" stroke="#35647e" stroke-width="1.5" stroke-linejoin="round"/><path d="M0,6 C4,-2 14,-9 24,-9 L38,-3 C28,-3 20,4 16,12Z" fill="#5a90aa" stroke="#5a90aa" stroke-width="1.5" stroke-linejoin="round"/></g><g transform="translate(655,390)"><path d="M16,12 C20,4 28,-3 38,-3 L35,18 L13,36Z" fill="#1e3446" stroke="#1e3446" stroke-width="1.5" stroke-linejoin="round"/><path d="M0,6 L16,12 L13,36 L-3,30Z" fill="#35647e" stroke="#35647e" stroke-width="1.5" stroke-linejoin="round"/><path d="M0,6 C4,-2 14,-9 24,-9 L38,-3 C28,-3 20,4 16,12Z" fill="#5a90aa" stroke="#5a90aa" stroke-width="1.5" stroke-linejoin="round"/></g><g transform="translate(682,398)"><path d="M16,12 C20,4 28,-3 38,-3 L35,18 L13,36Z" fill="#1e3446" stroke="#1e3446" stroke-width="1.5" stroke-linejoin="round"/><path d="M0,6 L16,12 L13,36 L-3,30Z" fill="#35647e" stroke="#35647e" stroke-width="1.5" stroke-linejoin="round"/><path d="M0,6 C4,-2 14,-9 24,-9 L38,-3 C28,-3 20,4 16,12Z" fill="#5a90aa" stroke="#5a90aa" stroke-width="1.5" stroke-linejoin="round"/></g><path d="M600.0,412.0 L700.0,452.0 L690.0,462.0 L596.0,424.0Z" fill="#f2f2f8" opacity="0.8"/>
<path d="M563.0,388.0 L718.0,452.0" fill="none" stroke="#8c3c28" stroke-width="8" stroke-linecap="round"/>
<path d="M563.0,387.0 L718.0,451.0" fill="none" stroke="#e08060" stroke-width="4.5" stroke-linecap="round"/>
<path d="M598,401 q4,-8 2,-14" fill="none" stroke="#c85a3c" stroke-width="2"/>
<path d="M626,413 q4,-8 2,-14" fill="none" stroke="#c85a3c" stroke-width="2"/>
<path d="M654,424 q4,-8 2,-14" fill="none" stroke="#c85a3c" stroke-width="2"/>
<path d="M682,436 q4,-8 2,-14" fill="none" stroke="#c85a3c" stroke-width="2"/>
<g transform="rotate(-28 575 372)"><rect x="552" y="354" width="50" height="38" rx="8" fill="url(#gPur)"/><ellipse cx="555" cy="373" rx="9" ry="19" fill="#b8acdf"/><ellipse cx="554" cy="374" rx="5" ry="11" fill="#1c2218"/><rect x="600" y="360" width="8" height="24" rx="3" fill="#9a9aa8"/></g><path d="M558.0,380.0 C558.0,380.0 549.7,384.3 545.0,388.0 C540.3,391.7 534.2,397.3 530.0,402.0 C525.8,406.7 520.0,416.0 520.0,416.0" fill="none" stroke="#2a3024" stroke-width="11" stroke-linecap="round"/>
<path d="M556.0,379.0 C556.0,379.0 547.7,383.3 543.0,387.0 C538.3,390.7 528.0,401.0 528.0,401.0" fill="none" stroke="#5a6450" stroke-width="3" stroke-linecap="round"/>
<rect x="529" y="320" width="23" height="38" rx="4" fill="url(#gCan)"/><path d="M524,308 l10,-5 l18,1 l-2,14 l-20,4z" fill="#b01c28"/><path d="M551.0,305.0 C551.0,305.0 571.2,301.5 580.0,303.0 C588.8,304.5 598.7,309.8 604.0,314.0 C609.3,318.2 612.0,328.0 612.0,328.0" fill="none" stroke="#4fb0d0" stroke-width="3"/>
<path d="M553.0,309.0 C553.0,309.0 572.2,306.5 580.0,308.0 C587.8,309.5 595.5,314.3 600.0,318.0 C604.5,321.7 607.0,330.0 607.0,330.0" fill="none" stroke="#7cc8dc" stroke-width="1.5"/>
<path d="M527.0,318.0 C527.0,318.0 516.0,327.7 510.0,332.0 C504.0,336.3 497.7,340.0 491.0,344.0 C484.3,348.0 476.3,351.7 470.0,356.0 C463.7,360.3 456.3,363.5 453.0,370.0 C449.7,376.5 448.5,388.7 450.0,395.0 C451.5,401.3 458.0,404.8 462.0,408.0 C466.0,411.2 474.0,414.0 474.0,414.0" fill="none" stroke="#4fb0d0" stroke-width="3"/>
<path d="M530.0,322.0 C530.0,322.0 518.0,331.7 512.0,336.0 C506.0,340.3 500.3,344.0 494.0,348.0 C487.7,352.0 480.0,355.7 474.0,360.0 C468.0,364.3 461.0,368.3 458.0,374.0 C455.0,379.7 454.7,389.0 456.0,394.0 C457.3,399.0 466.0,404.0 466.0,404.0" fill="none" stroke="#8ed0e0" stroke-width="1.3"/>
<path d="M560.0,346.0 C560.0,346.0 546.7,353.5 540.0,360.0 C533.3,366.5 525.8,377.8 520.0,385.0 C514.2,392.2 510.0,398.2 505.0,403.0 C500.0,407.8 490.0,414.0 490.0,414.0" fill="none" stroke="#d8a888" stroke-width="2.5"/>
<path d="M563.0,349.0 C563.0,349.0 549.7,356.5 543.0,363.0 C536.3,369.5 528.8,380.8 523.0,388.0 C517.2,395.2 508.0,406.0 508.0,406.0" fill="none" stroke="#f4f0ee" stroke-width="1.5"/>
<rect x="517" y="383" width="6" height="5" fill="#f0c020"/><path d="M733.0,431.0 L762.0,414.0 L836.0,437.0 L793.0,458.0Z" fill="#e6241e"/>
<path d="M746.0,427.0 L762.0,420.0 L790.0,429.0 L772.0,437.0Z" fill="#f4503c"/>
<path d="M734.0,434.0 L793.0,458.0 L793.0,492.0 L735.0,482.0Z" fill="url(#gBatL)"/>
<path d="M793.0,458.0 L836.0,437.0 L833.0,474.0 L795.0,492.0Z" fill="#2a78de"/>
<path d="M793.0,458.0 L836.0,437.0 L836.0,444.0 L793.0,466.0Z" fill="#c01812"/>
<path d="M733.0,431.0 L793.0,458.0 L793.0,465.0 L733.0,438.0Z" fill="#c01812"/>
<path d="M752.0,482.0 L780.0,490.0 L779.0,496.0 L751.0,488.0Z" fill="#e8b020"/>
<path d="M722.0,425.0 L734.0,431.0 L735.0,484.0 L724.0,478.0Z" fill="#b4d4ac" opacity="0.9"/>
<g transform="rotate(18 590 440)"><ellipse cx="590" cy="440" rx="5.5" ry="9" fill="#c89838" stroke="#7a5a1c" stroke-width="1"/><ellipse cx="598" cy="440" rx="5.5" ry="9" fill="#c89838" stroke="#7a5a1c" stroke-width="1"/><ellipse cx="606" cy="440" rx="5.5" ry="9" fill="#c89838" stroke="#7a5a1c" stroke-width="1"/><ellipse cx="614" cy="440" rx="5.5" ry="9" fill="#c89838" stroke="#7a5a1c" stroke-width="1"/></g><g transform="rotate(25 683 490)"><ellipse cx="683" cy="490" rx="5.5" ry="12" fill="#c89838" stroke="#7a5a1c" stroke-width="1"/><ellipse cx="691" cy="490" rx="5.5" ry="12" fill="#c89838" stroke="#7a5a1c" stroke-width="1"/><ellipse cx="699" cy="490" rx="5.5" ry="12" fill="#c89838" stroke="#7a5a1c" stroke-width="1"/><ellipse cx="707" cy="490" rx="5.5" ry="12" fill="#c89838" stroke="#7a5a1c" stroke-width="1"/></g><path d="M632.0,452.0 L650.0,444.0 L680.0,456.0 L662.0,466.0Z" fill="#a8a8c4"/>
<path d="M632.0,452.0 L662.0,466.0 L662.0,472.0 L632.0,458.0Z" fill="#7e7ea0"/>
<path d="M662.0,466.0 L680.0,456.0 L680.0,462.0 L662.0,472.0Z" fill="#9090b0"/>
<path d="M468.0,406.0 L662.0,478.0 L634.0,580.0 L464.0,492.0Z" fill="#3a9cf0" opacity="0.35" filter="url(#b3)"/>
<path d="M472.0,411.0 L657.0,481.0 L633.0,581.0 L470.0,490.0Z" fill="#2569b8"/>
<path d="M478.0,413.0 L645.0,480.0 L626.0,575.0 L476.0,488.0Z" fill="#1b232e"/>
<path d="M478.9,424.5 L642.6,491.9 M478.8,427.3 L641.8,495.8 M478.8,430.2 L641.0,499.8 M478.8,433.0 L640.2,503.8 M478.7,435.8 L639.5,507.7 M478.7,438.7 L638.7,511.7 M478.6,441.5 L637.9,515.6 M478.6,444.3 L637.1,519.6 M478.5,447.2 L636.3,523.5 M478.5,450.0 L635.5,527.5 M478.5,452.8 L634.7,531.5 M478.4,455.7 L633.9,535.4 M478.4,458.5 L633.1,539.4 M478.3,461.3 L632.3,543.3 M478.3,464.2 L631.5,547.3 M478.2,467.0 L630.8,551.2 M478.2,469.8 L630.0,555.2 M478.2,472.7 L629.2,559.2 M478.1,475.5 L628.4,563.1 M478.1,478.3 L627.6,567.1 M478.0,481.2 L626.8,571.0 " fill="none" stroke="#8593a3" stroke-width="0.9" opacity="0.6"/>
<path d="M506.3,427.0 Q499.5,463.9 502.7,500.8 M533.7,438.0 Q525.5,476.8 527.3,515.7 M561.0,449.0 Q551.5,489.8 552.0,530.5 M588.3,460.0 Q577.5,502.7 576.7,545.3 M615.7,471.0 Q603.5,515.6 601.3,560.2 " fill="none" stroke="#1d2631" stroke-width="5"/>
<path d="M506.3,427.0 Q499.5,463.9 502.7,500.8 M533.7,438.0 Q525.5,476.8 527.3,515.7 M561.0,449.0 Q551.5,489.8 552.0,530.5 M588.3,460.0 Q577.5,502.7 576.7,545.3 M615.7,471.0 Q603.5,515.6 601.3,560.2 " fill="none" stroke="#b98866" stroke-width="1.3"/>
<path d="M479.0,414.0 L644.0,480.0 L641.0,491.0 L479.0,425.0Z" fill="#12161c"/>
<path d="M530.0,470.0 C534.2,465.5 552.5,473.0 560.0,478.0 C567.5,483.0 575.0,493.0 575.0,500.0 C575.0,507.0 566.7,519.2 560.0,520.0 C553.3,520.8 540.0,513.3 535.0,505.0 C530.0,496.7 525.8,474.5 530.0,470.0Z" fill="#2c7c7c" opacity="0.45"/>
<path d="M575.0,490.0 C576.7,483.3 594.2,481.7 600.0,485.0 C605.8,488.3 611.7,503.3 610.0,510.0 C608.3,516.7 595.8,528.3 590.0,525.0 C584.2,521.7 573.3,496.7 575.0,490.0Z" fill="#7a5a44" opacity="0.45"/>
<path d="M502.0,406.0 L659.0,473.0 L656.0,482.0 L499.0,415.0Z" fill="#5cc838"/>
<path d="M505.0,411.0 L655.0,476.0" fill="none" stroke="#1e5a14" stroke-width="2.5" stroke-dasharray="2.5 5"/>
<path d="M644.0,483.0 L657.0,481.0 L634.0,580.0 L625.0,574.0Z" fill="#2384ea"/>
<path d="M650.0,485.0 L657.0,482.0 L642.0,548.0 L637.0,546.0Z" fill="#5cc838"/>
<path d="M470.0,409.0 L502.0,406.0 L499.0,416.0 L476.0,416.0Z" fill="#2c8ae6"/>
<path d="M630.0,580.0 L668.0,554.0" fill="none" stroke="#2a78d0" stroke-width="5" stroke-linecap="round"/>
<path d="M624.0,584.0 L636.0,578.0" fill="none" stroke="#b8a028" stroke-width="7" stroke-linecap="round"/>
<ellipse cx="675" cy="548" rx="10" ry="8" fill="#e08820"/><path d="M470.0,452.0 C478.3,453.0 501.7,462.5 520.0,470.0 C538.3,477.5 560.0,487.3 580.0,497.0 C600.0,506.7 630.3,520.8 640.0,528.0 C649.7,535.2 648.3,543.2 638.0,540.0 C627.7,536.8 598.0,518.7 578.0,509.0 C558.0,499.3 536.0,489.5 518.0,482.0 C500.0,474.5 478.0,469.0 470.0,464.0 C462.0,459.0 461.7,451.0 470.0,452.0Z" fill="#dfe8f6" opacity="0.28"/>
<path d="M470.0,452.0 C470.0,452.0 501.7,462.5 520.0,470.0 C538.3,477.5 560.0,487.3 580.0,497.0 C600.0,506.7 640.0,528.0 640.0,528.0" fill="none" stroke="#eaf0fa" stroke-width="1" opacity="0.6"/>
<rect x="471" y="407" width="8" height="12" rx="3" fill="#3a98f0"/><rect x="654" y="486" width="7" height="9" rx="2" fill="#3a98f0"/><ellipse cx="575" cy="505" rx="55" ry="30" fill="#dfe6f4" opacity="0.45" filter="url(#b8)" transform="rotate(20 575 505)"/></g>
<g id="front1"><path d="M950.0,350.0 C947.0,358.5 951.7,383.3 942.0,396.0 C932.3,408.7 906.0,417.3 892.0,426.0 C878.0,434.7 867.0,439.7 858.0,448.0 C849.0,456.3 845.3,467.3 838.0,476.0 C830.7,484.7 822.0,492.7 814.0,500.0 C806.0,507.3 792.3,512.5 790.0,520.0 C787.7,527.5 790.0,541.7 800.0,545.0 C810.0,548.3 820.8,544.2 850.0,540.0 C879.2,535.8 953.0,536.7 975.0,520.0 C997.0,503.3 981.5,463.0 982.0,440.0 C982.5,417.0 981.7,397.8 978.0,382.0 C974.3,366.2 964.7,350.3 960.0,345.0 C955.3,339.7 953.0,341.5 950.0,350.0Z" fill="url(#gFend)" filter="url(#b3)"/>
<path d="M852.0,505.0 C852.0,505.0 862.2,477.7 872.0,468.0 C881.8,458.3 898.8,448.7 911.0,447.0 C923.2,445.3 936.5,450.5 945.0,458.0 C953.5,465.5 962.0,492.0 962.0,492.0 C962.0,492.0 953.7,514.5 940.0,520.0 C926.3,525.5 894.7,527.5 880.0,525.0 C865.3,522.5 852.0,505.0 852.0,505.0Z" fill="#45454f"/>
</g>
<g id="wheels"><g transform="translate(896,565) rotate(8)"><ellipse cx="-22" cy="7" rx="74.4" ry="101.0" fill="#5c5c62"/><ellipse cx="-13.2" cy="4.2" rx="73.4" ry="100.0" fill="none" stroke="#8a8a90" stroke-width="4" stroke-dasharray="2 3"/><ellipse cx="0" cy="0" rx="73.4" ry="101.0" fill="url(#gTireF)"/><g transform="scale(0.727,1)"><circle r="87" fill="url(#gRimF)"/><circle r="85.5" fill="none" stroke="#f0f2f4" stroke-width="2.5"/><circle cx="-3.0" r="76" fill="url(#gDishF)"/><circle cx="-3.0" r="76" fill="none" stroke="#9a9ea6" stroke-width="1.5" opacity="0.7"/><circle cx="-6" r="9" fill="#dfe2e6" stroke="#70747c" stroke-width="1.5"/><circle cx="4.6" cy="-15.8" r="4" fill="#d8dbe0" stroke="#70747c" stroke-width="1.3"/><circle cx="12.3" cy="5.2" r="4" fill="#d8dbe0" stroke="#70747c" stroke-width="1.3"/><circle cx="-5.3" cy="19.0" r="4" fill="#d8dbe0" stroke="#70747c" stroke-width="1.3"/><circle cx="-23.9" cy="6.5" r="4" fill="#d8dbe0" stroke="#70747c" stroke-width="1.3"/><circle cx="-17.7" cy="-15.0" r="4" fill="#d8dbe0" stroke="#70747c" stroke-width="1.3"/></g><g transform="rotate(-8)"><g transform="translate(-7.0,-53.0) rotate(182) scale(0.71,0.79)"><path d="M-6,-15 Q0,-19 6,-15 L12,9 Q12,17 0,17 Q-12,17 -12,9Z" fill="#eceef1" transform="translate(-2.5,2)"/><path d="M-6,-15 Q0,-19 6,-15 L12,9 Q12,17 0,17 Q-12,17 -12,9Z" fill="#343439"/></g><g transform="translate(24.0,-30.0) rotate(228) scale(0.71,0.82)"><path d="M-6,-15 Q0,-19 6,-15 L12,9 Q12,17 0,17 Q-12,17 -12,9Z" fill="#eceef1" transform="translate(-2.5,2)"/><path d="M-6,-15 Q0,-19 6,-15 L12,9 Q12,17 0,17 Q-12,17 -12,9Z" fill="#343439"/></g><g transform="translate(6.0,30.0) rotate(-20) scale(0.71,0.74)"><path d="M-6,-15 Q0,-19 6,-15 L12,9 Q12,17 0,17 Q-12,17 -12,9Z" fill="#eceef1" transform="translate(-2.5,2)"/><path d="M-6,-15 Q0,-19 6,-15 L12,9 Q12,17 0,17 Q-12,17 -12,9Z" fill="#343439"/></g><g transform="translate(-37.0,43.0) rotate(35) scale(1.00,0.76)"><path d="M-6,-15 Q0,-19 6,-15 L12,9 Q12,17 0,17 Q-12,17 -12,9Z" fill="#eceef1" transform="translate(-2.5,2)"/><path d="M-6,-15 Q0,-19 6,-15 L12,9 Q12,17 0,17 Q-12,17 -12,9Z" fill="#343439"/></g><g transform="translate(-45.0,-12.0) rotate(100) scale(1.00,0.79)"><path d="M-6,-15 Q0,-19 6,-15 L12,9 Q12,17 0,17 Q-12,17 -12,9Z" fill="#eceef1" transform="translate(-2.5,2)"/><path d="M-6,-15 Q0,-19 6,-15 L12,9 Q12,17 0,17 Q-12,17 -12,9Z" fill="#343439"/></g></g></g><g transform="translate(1329,275) rotate(8)"><ellipse cx="-13" cy="3" rx="37.0" ry="90.0" fill="#5c5c62"/><ellipse cx="-7.8" cy="1.7999999999999998" rx="36.0" ry="89.0" fill="none" stroke="#8a8a90" stroke-width="4" stroke-dasharray="2 3"/><ellipse cx="0" cy="0" rx="38.0" ry="90.0" fill="url(#gTireR)"/><g transform="scale(0.4,1)"><circle r="74" fill="url(#gRimR)"/><circle r="72.5" fill="none" stroke="#f0f2f4" stroke-width="2.5"/><circle cx="-5.0" r="63" fill="url(#gDishR)"/><circle cx="-5.0" r="63" fill="none" stroke="#9a9ea6" stroke-width="1.5" opacity="0.7"/></g><g transform="rotate(-8)"></g></g><ellipse cx="1313.8" cy="232" rx="4.2" ry="10" fill="#eceef1" transform="rotate(22 1315 231)"/><ellipse cx="1315" cy="231" rx="4.2" ry="10" fill="#404046" transform="rotate(22 1315 231)"/><ellipse cx="1309.8" cy="270" rx="4.2" ry="9.5" fill="#eceef1" transform="rotate(6 1311 269)"/><ellipse cx="1311" cy="269" rx="4.2" ry="9.5" fill="#404046" transform="rotate(6 1311 269)"/><ellipse cx="1309.8" cy="314" rx="4.2" ry="9" fill="#eceef1" transform="rotate(-14 1311 313)"/><ellipse cx="1311" cy="313" rx="4.2" ry="9" fill="#404046" transform="rotate(-14 1311 313)"/><ellipse cx="1332.8" cy="223" rx="3" ry="7" fill="#eceef1" transform="rotate(-8 1334 222)"/><ellipse cx="1334" cy="222" rx="3" ry="7" fill="#404046" transform="rotate(-8 1334 222)"/><ellipse cx="1326" cy="262" rx="4" ry="7" fill="#e4e6ea" stroke="#70747c" stroke-width="1"/><ellipse cx="1322" cy="250" rx="1.6" ry="2.6" fill="#dfe2e6" stroke="#70747c" stroke-width="0.8"/><ellipse cx="1331" cy="249" rx="1.6" ry="2.6" fill="#dfe2e6" stroke="#70747c" stroke-width="0.8"/><ellipse cx="1320" cy="266" rx="1.6" ry="2.6" fill="#dfe2e6" stroke="#70747c" stroke-width="0.8"/><ellipse cx="1332" cy="268" rx="1.6" ry="2.6" fill="#dfe2e6" stroke="#70747c" stroke-width="0.8"/></g>
<g id="front2"><path d="M911.0,445.0 C911.0,445.0 885.0,454.7 876.0,463.0 C867.0,471.3 863.0,484.2 857.0,495.0 C851.0,505.8 845.2,515.5 840.0,528.0 C834.8,540.5 830.7,556.0 826.0,570.0 C821.3,584.0 816.7,600.0 812.0,612.0 C807.3,624.0 798.0,642.0 798.0,642.0 C798.0,642.0 790.3,654.8 780.0,658.0 C769.7,661.2 749.3,660.7 736.0,661.0 C722.7,661.3 700.0,660.0 700.0,660.0 C700.0,660.0 690.0,560.0 690.0,560.0 C690.0,560.0 770.0,520.0 770.0,520.0 C770.0,520.0 850.0,440.0 850.0,440.0 C850.0,440.0 911.0,445.0 911.0,445.0Z" fill="url(#gBody)"/>
<path d="M826.0,505.0 C826.0,505.0 830.7,470.7 836.0,459.0 C841.3,447.3 847.7,442.5 858.0,435.0 C868.3,427.5 884.8,418.5 898.0,414.0 C911.2,409.5 926.5,406.3 937.0,408.0 C947.5,409.7 954.2,415.0 961.0,424.0 C967.8,433.0 978.0,462.0 978.0,462.0 C978.0,462.0 958.0,482.0 958.0,482.0 C958.0,482.0 953.8,466.2 946.0,460.0 C938.2,453.8 922.7,444.7 911.0,445.0 C899.3,445.3 885.0,453.8 876.0,462.0 C867.0,470.2 862.5,483.5 857.0,494.0 C851.5,504.5 843.0,525.0 843.0,525.0 C843.0,525.0 826.0,505.0 826.0,505.0Z" fill="url(#gFlare)" filter="url(#b1)"/>
<path d="M962.0,492.0 C962.0,492.0 956.5,466.3 948.0,458.0 C939.5,449.7 923.5,441.7 911.0,442.0 C898.5,442.3 882.7,451.3 873.0,460.0 C863.3,468.7 859.2,482.7 853.0,494.0 C846.8,505.3 841.2,515.3 836.0,528.0 C830.8,540.7 826.7,556.0 822.0,570.0 C817.3,584.0 812.2,600.3 808.0,612.0 C803.8,623.7 797.0,640.0 797.0,640.0" fill="none" stroke="#9c9cc0" stroke-width="1.2"/>
<path d="M432.0,470.0 C431.5,480.8 434.8,495.3 437.0,505.0 C439.2,514.7 441.7,522.0 445.0,528.0 C448.3,534.0 452.8,538.8 457.0,541.0 C461.2,543.2 465.8,541.7 470.0,541.0 C474.2,540.3 472.8,533.8 482.0,537.0 C491.2,540.2 505.3,550.2 525.0,560.0 C544.7,569.8 583.3,585.0 600.0,596.0 C616.7,607.0 616.7,617.8 625.0,626.0 C633.3,634.2 637.5,639.3 650.0,645.0 C662.5,650.7 685.7,657.3 700.0,660.0 C714.3,662.7 722.7,661.3 736.0,661.0 C749.3,660.7 769.7,661.2 780.0,658.0 C790.3,654.8 792.7,650.8 798.0,642.0 C803.3,633.2 808.0,617.0 812.0,605.0 C816.0,593.0 817.3,582.8 822.0,570.0 C826.7,557.2 843.7,532.2 840.0,528.0 C836.3,523.8 816.7,540.3 800.0,545.0 C783.3,549.7 758.3,554.2 740.0,556.0 C721.7,557.8 705.0,555.0 690.0,556.0 C675.0,557.0 659.3,557.5 650.0,562.0 C640.7,566.5 649.0,586.2 634.0,583.0 C619.0,579.8 587.7,558.2 560.0,543.0 C532.3,527.8 486.0,504.2 468.0,492.0 C450.0,479.8 456.7,478.7 452.0,470.0 C447.3,461.3 443.3,440.0 440.0,440.0 C436.7,440.0 432.5,459.2 432.0,470.0Z" fill="url(#gBump)"/>
<path d="M468.0,492.0 C483.7,498.5 532.3,527.8 560.0,543.0 C587.7,558.2 620.3,574.3 634.0,583.0 C647.7,591.7 654.3,599.7 642.0,595.0 C629.7,590.3 589.3,570.2 560.0,555.0 C530.7,539.8 481.3,514.5 466.0,504.0 C450.7,493.5 452.3,485.5 468.0,492.0Z" fill="#9c9cc6" opacity="0.8" filter="url(#b1)"/>
<path d="M424.0,400.0 C425.7,396.7 435.3,428.3 440.0,440.0 C444.7,451.7 447.3,461.3 452.0,470.0 C456.7,478.7 465.0,482.0 468.0,492.0 C471.0,502.0 473.0,524.0 470.0,530.0 C467.0,536.0 455.5,532.2 450.0,528.0 C444.5,523.8 440.3,516.3 437.0,505.0 C433.7,493.7 432.2,477.5 430.0,460.0 C427.8,442.5 422.3,403.3 424.0,400.0Z" fill="#c8c8e4" opacity="0.9"/>
<path d="M690.0,558.0 C690.8,552.7 721.7,559.8 740.0,558.0 C758.3,556.2 783.3,552.0 800.0,547.0 C816.7,542.0 835.7,524.2 840.0,528.0 C844.3,531.8 830.7,556.0 826.0,570.0 C821.3,584.0 816.7,600.0 812.0,612.0 C807.3,624.0 803.3,634.3 798.0,642.0 C792.7,649.7 788.8,655.0 780.0,658.0 C771.2,661.0 751.3,666.3 745.0,660.0 C738.7,653.7 743.7,631.7 742.0,620.0 C740.3,608.3 743.7,600.3 735.0,590.0 C726.3,579.7 689.2,563.3 690.0,558.0Z" fill="url(#gCorner)"/>
<path d="M628.0,588.0 C628.8,582.7 643.0,586.7 660.0,590.0 C677.0,593.3 717.3,599.7 730.0,608.0 C742.7,616.3 741.0,634.7 736.0,640.0 C731.0,645.3 713.5,643.0 700.0,640.0 C686.5,637.0 667.0,630.7 655.0,622.0 C643.0,613.3 627.2,593.3 628.0,588.0Z" fill="#a2a2cc"/>
<path d="M647.0,591.0 C647.0,591.0 676.7,596.5 690.0,600.0 C703.3,603.5 727.0,612.0 727.0,612.0 C727.0,612.0 728.0,635.0 728.0,635.0 C728.0,635.0 701.2,633.0 690.0,630.0 C678.8,627.0 661.0,617.0 661.0,617.0 C661.0,617.0 647.0,591.0 647.0,591.0Z" fill="url(#pMesh)"/>
<path d="M446.0,497.0 C446.0,497.0 456.7,504.2 462.0,508.0 C467.3,511.8 478.0,520.0 478.0,520.0 C478.0,520.0 477.0,531.0 477.0,531.0 C477.0,531.0 463.0,524.7 458.0,521.0 C453.0,517.3 447.0,509.0 447.0,509.0 C447.0,509.0 446.0,497.0 446.0,497.0Z" fill="url(#pMesh)"/>
<ellipse cx="708" cy="584" rx="12" ry="10" fill="#f0f0f8" stroke="#8a8aa8" stroke-width="1.5"/><ellipse cx="707" cy="584" rx="7" ry="6" fill="#b4bccc"/><rect x="797" y="566" width="24" height="16" rx="6" fill="#d8a020" transform="rotate(-18 809 574)"/><rect x="801" y="570" width="10" height="8" rx="3" fill="#f8e070" transform="rotate(-18 809 574)"/><path d="M652.0,508.0 C659.5,503.0 682.0,512.5 700.0,512.0 C718.0,511.5 741.7,508.7 760.0,505.0 C778.3,501.3 795.0,497.2 810.0,490.0 C825.0,482.8 840.7,464.0 850.0,462.0 C859.3,460.0 866.0,471.2 866.0,478.0 C866.0,484.8 859.7,494.2 850.0,503.0 C840.3,511.8 823.0,523.5 808.0,531.0 C793.0,538.5 778.0,544.5 760.0,548.0 C742.0,551.5 717.5,553.0 700.0,552.0 C682.5,551.0 663.0,549.3 655.0,542.0 C647.0,534.7 644.5,513.0 652.0,508.0Z" fill="#e9e7f6" opacity="0.8"/>
<path d="M668.0,522.0 C669.7,517.8 688.0,516.8 700.0,517.0 C712.0,517.2 728.3,520.8 740.0,523.0 C751.7,525.2 770.0,526.5 770.0,530.0 C770.0,533.5 753.3,542.0 740.0,544.0 C726.7,546.0 702.0,545.7 690.0,542.0 C678.0,538.3 666.3,526.2 668.0,522.0Z" fill="#9f95c2" opacity="0.75"/>
<path d="M690.0,527.0 C690.0,524.8 707.5,523.5 715.0,524.0 C722.5,524.5 735.0,527.8 735.0,530.0 C735.0,532.2 722.5,537.5 715.0,537.0 C707.5,536.5 690.0,529.2 690.0,527.0Z" fill="#d8d4ea" opacity="0.9"/>
<path d="M650.0,536.0 C650.0,536.0 671.8,541.5 695.0,541.0 C718.2,540.5 761.5,541.3 789.0,533.0 C816.5,524.7 860.0,491.0 860.0,491.0" fill="none" stroke="#7c7ca4" stroke-width="1.4"/>
<path d="M655.0,546.0 C655.0,546.0 676.7,550.8 700.0,550.0 C723.3,549.2 767.3,549.7 795.0,541.0 C822.7,532.3 866.0,498.0 866.0,498.0" fill="none" stroke="#9c9cc0" stroke-width="1"/>
<path d="M676.0,504.0 C676.0,504.0 712.0,512.0 731.0,505.0 C750.0,498.0 775.3,475.2 790.0,462.0 C804.7,448.8 798.7,445.5 819.0,426.0 C839.3,406.5 912.0,345.0 912.0,345.0" fill="none" stroke="#86a0c8" stroke-width="1.4"/>
<path d="M700.0,500.0 C700.0,500.0 728.3,499.5 745.0,492.0 C761.7,484.5 780.8,470.3 800.0,455.0 C819.2,439.7 860.0,400.0 860.0,400.0" fill="none" stroke="#c8d8ec" stroke-width="1"/>
<path d="M664.0,545.0 C665.7,541.7 673.7,539.2 678.0,540.0 C682.3,540.8 689.3,546.3 690.0,550.0 C690.7,553.7 685.7,560.3 682.0,562.0 C678.3,563.7 671.0,562.8 668.0,560.0 C665.0,557.2 662.3,548.3 664.0,545.0Z" fill="#e08a20"/>
<path d="M426.0,386.0 C426.0,386.0 435.7,389.3 440.0,394.0 C444.3,398.7 449.2,406.7 452.0,414.0 C454.8,421.3 457.0,438.0 457.0,438.0 C457.0,438.0 444.7,434.7 440.0,430.0 C435.3,425.3 431.3,417.3 429.0,410.0 C426.7,402.7 426.0,386.0 426.0,386.0Z" fill="#f0f2f9" stroke="#8484aa" stroke-width="1.2"/>
<path d="M431.0,396.0 C432.7,395.7 439.8,402.7 443.0,408.0 C446.2,413.3 450.5,425.7 450.0,428.0 C449.5,430.3 442.8,425.0 440.0,422.0 C437.2,419.0 434.5,414.3 433.0,410.0 C431.5,405.7 429.3,396.3 431.0,396.0Z" fill="#8c92ac"/>
<path d="M436.0,404.0 C436.8,403.5 442.3,410.7 444.0,414.0 C445.7,417.3 446.8,423.5 446.0,424.0 C445.2,424.5 440.7,420.3 439.0,417.0 C437.3,413.7 435.2,404.5 436.0,404.0Z" fill="#e4e6f0"/>
<path d="M424.0,392.0 C424.0,387.3 427.7,377.3 432.0,370.0 C436.3,362.7 442.8,355.5 450.0,348.0 C457.2,340.5 462.5,335.0 475.0,325.0 C487.5,315.0 508.3,299.2 525.0,288.0 C541.7,276.8 560.8,267.2 575.0,258.0 C589.2,248.8 597.2,242.8 610.0,233.0 C622.8,223.2 644.3,203.5 652.0,199.0 C659.7,194.5 662.3,199.0 656.0,206.0 C649.7,213.0 626.5,231.0 614.0,241.0 C601.5,251.0 594.8,256.8 581.0,266.0 C567.2,275.2 547.3,285.0 531.0,296.0 C514.7,307.0 495.2,322.2 483.0,332.0 C470.8,341.8 465.2,347.3 458.0,355.0 C450.8,362.7 444.3,370.8 440.0,378.0 C435.7,385.2 434.7,395.7 432.0,398.0 C429.3,400.3 424.0,396.7 424.0,392.0Z" fill="#b6b6d8" opacity="0.85"/>
<path d="M436.0,384.0 C436.0,384.0 446.8,364.7 454.0,356.0 C461.2,347.3 466.5,342.3 479.0,332.0 C491.5,321.7 512.3,305.3 529.0,294.0 C545.7,282.7 565.0,273.0 579.0,264.0 C593.0,255.0 613.0,240.0 613.0,240.0" fill="none" stroke="#6c6c94" stroke-width="1.3"/>
<path d="M443.0,392.0 C443.0,392.0 453.8,372.7 461.0,364.0 C468.2,355.3 473.7,350.2 486.0,340.0 C498.3,329.8 518.5,314.2 535.0,303.0 C551.5,291.8 571.3,281.8 585.0,273.0 C598.7,264.2 617.0,250.0 617.0,250.0" fill="none" stroke="#a2a2c8" stroke-width="1.1"/>
<path d="M436.0,403.0 C436.0,403.0 448.3,396.5 455.0,398.0 C461.7,399.5 476.0,412.0 476.0,412.0" fill="none" stroke="#9a9ac2" stroke-width="1.2"/>
<path d="M1278.0,342.0 C1278.0,342.0 1274.8,314.0 1275.0,300.0 C1275.2,286.0 1274.5,274.8 1279.0,258.0 C1283.5,241.2 1291.7,212.5 1302.0,199.0 C1312.3,185.5 1329.8,177.3 1341.0,177.0 C1352.2,176.7 1363.3,188.8 1369.0,197.0 C1374.7,205.2 1375.0,226.0 1375.0,226.0" fill="none" stroke="#e6e6f3" stroke-width="10" opacity="0.95"/>
<path d="M1273.0,342.0 C1273.0,342.0 1269.8,314.3 1270.0,300.0 C1270.2,285.7 1269.3,273.7 1274.0,256.0 C1278.7,238.3 1286.8,208.2 1298.0,194.0 C1309.2,179.8 1328.5,171.2 1341.0,171.0 C1353.5,170.8 1366.5,184.2 1373.0,193.0 C1379.5,201.8 1380.0,224.0 1380.0,224.0" fill="none" stroke="#a6a6c8" stroke-width="1"/>
<path d="M1306.0,206.0 C1306.0,206.0 1316.2,193.8 1322.0,190.0 C1327.8,186.2 1335.3,183.5 1341.0,183.5 C1346.7,183.5 1352.2,186.6 1356.0,190.0 C1359.8,193.4 1364.0,204.0 1364.0,204.0" fill="none" stroke="#4a4a52" stroke-width="2.5"/>
</g>
<g id="callouts"><circle cx="730" cy="318.5" r="14.4" fill="#0f5a85" stroke="#fff" stroke-width="3"/><text x="730" y="324.9" font-size="18" fill="#fff" text-anchor="middle">1</text>
<circle cx="589.3" cy="416.3" r="14.4" fill="#0f5a85" stroke="#fff" stroke-width="3"/><text x="589.3" y="422.7" font-size="18" fill="#fff" text-anchor="middle">2</text>
<circle cx="675" cy="503.8" r="14.4" fill="#0f5a85" stroke="#fff" stroke-width="3"/><text x="675" y="510.2" font-size="18" fill="#fff" text-anchor="middle">3</text>
<circle cx="658.8" cy="360.5" r="14.4" fill="#0f5a85" stroke="#fff" stroke-width="3"/><text x="658.8" y="366.9" font-size="18" fill="#fff" text-anchor="middle">4</text>
<circle cx="553.3" cy="512.5" r="14.4" fill="#0f5a85" stroke="#fff" stroke-width="3"/><text x="553.3" y="518.9" font-size="18" fill="#fff" text-anchor="middle">5</text>
<circle cx="698" cy="362.5" r="14.4" fill="#0f5a85" stroke="#fff" stroke-width="3"/><text x="698" y="368.9" font-size="18" fill="#fff" text-anchor="middle">6</text>
<circle cx="692" cy="416.3" r="14.4" fill="#0f5a85" stroke="#fff" stroke-width="3"/><text x="692" y="422.7" font-size="18" fill="#fff" text-anchor="middle">7</text>
<circle cx="619.5" cy="370.5" r="14.4" fill="#0f5a85" stroke="#fff" stroke-width="3"/><text x="619.5" y="376.9" font-size="18" fill="#fff" text-anchor="middle">8</text>
<circle cx="794.8" cy="416.3" r="14.4" fill="#0f5a85" stroke="#fff" stroke-width="3"/><text x="794.8" y="422.7" font-size="18" fill="#fff" text-anchor="middle">9</text>
<circle cx="981.3" cy="329.8" r="14.4" fill="#0f5a85" stroke="#fff" stroke-width="3"/><text x="980.8" y="335.5" font-size="16" fill="#fff" text-anchor="middle" letter-spacing="-1.2">10</text>
<circle cx="1331" cy="294" r="14.4" fill="#0f5a85" stroke="#fff" stroke-width="3"/><text x="1330.5" y="299.7" font-size="16" fill="#fff" text-anchor="middle" letter-spacing="-1.2">11</text>
</g>


</svg>
<div class="b" style="top:17.2px">1</div><div class="li" style="top:16.9px">Windshield Wiper Motor</div>
<div class="b" style="top:57.6px">2</div><div class="li" style="top:57.3px">Alternator</div>
<div class="b" style="top:98.0px">3</div><div class="li" style="top:97.7px">Cooling System Thermostat</div>
<div class="b" style="top:138.4px">4</div><div class="li" style="top:138.1px">Engine/Turbo Cooling System</div>
<div class="b" style="top:178.8px">5</div><div class="li" style="top:178.5px">Cooling Fan</div>
<div class="b" style="top:219.2px">6</div><div class="li" style="top:218.9px">O-Ring Lubrication/Assembly Lube</div>
<div class="b" style="top:259.6px">7</div><div class="li" style="top:259.3px">Spark Plug Boots</div>
<div class="b" style="top:300.0px">8</div><div class="li" style="top:299.7px">EGR Valve</div>
<div class="b" style="top:340.4px">9</div><div class="li" style="top:340.1px">Battery Vent Seals</div>
<div class="b w" style="top:380.8px">10</div><div class="li" style="top:380.5px">Exterior Side View Mirror Mechanism</div>
<div class="b w" style="top:421.2px">11</div><div class="li" style="top:420.9px">Electronic Parking Brake Mechanism</div>
<div class="ri" style="top:496.9px"><b>Other Applications</b> <i>(Not Shown)</i></div>
<div class="ri" style="top:537.3px">Clutch Pilot Bearing</div>
<div class="ri" style="top:577.7px">Minivan Side Door Motor Clutch</div>
<div class="ri" style="top:618.1px">Heavy Duty Truck Auto-Clutch</div>
<div class="ri" style="top:658.5px">Super Charger Lubricant</div>
<div class="ri" style="top:698.9px">Fan Clutch</div>
</body></html>
